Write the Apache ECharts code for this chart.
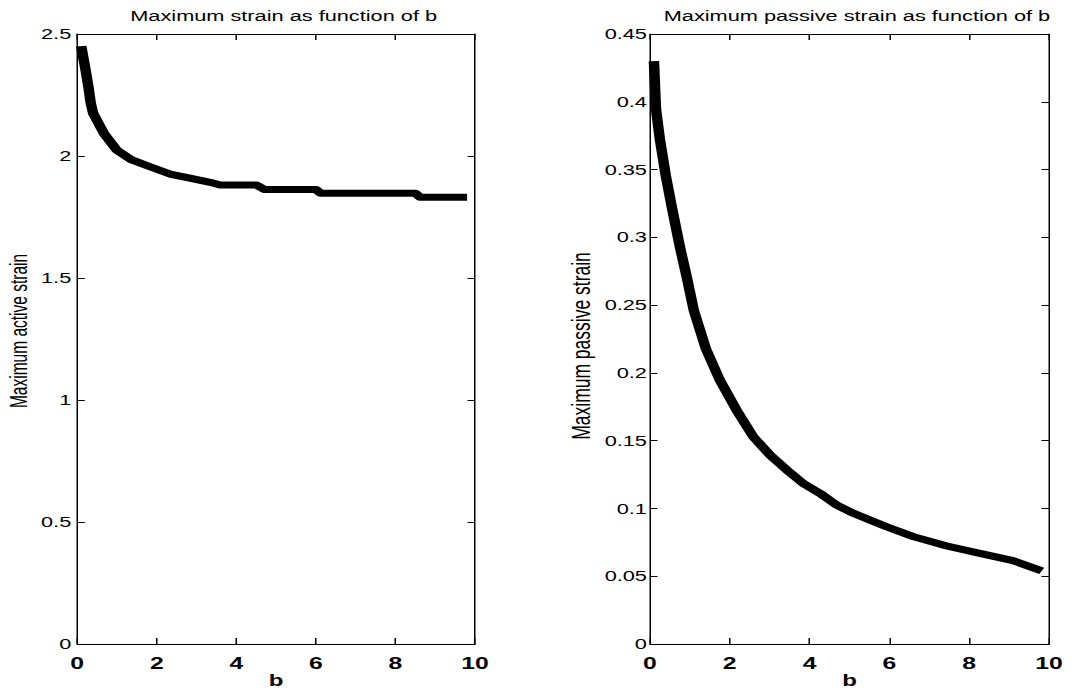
<!DOCTYPE html>
<html>
<head>
<meta charset="utf-8">
<title>Maximum strain as function of b</title>
<script src="https://cdn.jsdelivr.net/npm/echarts@6/dist/echarts.min.js"></script>
<style>
  html, body { margin: 0; padding: 0; background: #fff; overflow: hidden; }
  /* the figure is laid out at 726 px and widened to 1089 px, giving its wide lettering */
  #chart { width: 726px; height: 691px; transform: scaleX(1.5); transform-origin: 0 0; }
</style>
</head>
<body>
<div id="chart"></div>
<script>
// Maximum active strain against b
const activeB      = [0.10, 0.21, 0.28, 0.34, 0.40, 0.67, 0.99, 1.37, 1.83, 2.33, 2.83, 3.34, 3.59, 4.51, 4.70, 6.00, 6.12, 8.50, 8.62, 9.80];
const activeStrain = [2.45, 2.352, 2.284, 2.216, 2.175, 2.093, 2.025, 1.984, 1.956, 1.926, 1.909, 1.892, 1.881, 1.881, 1.863, 1.863, 1.847, 1.847, 1.831, 1.831];

// Maximum passive strain against b
const passiveB      = [0.10, 0.15, 0.25, 0.40, 0.55, 0.75, 0.92, 1.10, 1.40, 1.75, 2.17, 2.59, 3.01, 3.43, 3.84, 4.26, 4.68, 5.10, 5.51, 5.93, 6.60, 7.44, 8.27, 9.10, 9.82];
const passiveStrain = [0.430, 0.395, 0.372, 0.345, 0.322, 0.293, 0.271, 0.246, 0.218, 0.1947, 0.1726, 0.1529, 0.1394, 0.1284, 0.1185, 0.1112, 0.1025, 0.0964, 0.0915, 0.0865, 0.0792, 0.0723, 0.0669, 0.0615, 0.054];

// Axis ranges and tick steps
const bRange       = { min: 0, max: 10, interval: 2 };
const activeRange  = { min: 0, max: 2.5, interval: 0.5 };
const passiveRange = { min: 0, max: 0.45, interval: 0.05 };

const titles    = ['Maximum strain as function of b', 'Maximum passive strain as function of b'];
const yNames    = ['Maximum active strain', 'Maximum passive strain'];
const xName     = 'b';

const FONT = '"Liberation Sans", Arial, Helvetica, sans-serif';
const NARROW = '"Liberation Sans Narrow", "Arial Narrow", "Liberation Sans", sans-serif';

// the grids keep their stated size; the four axes of each grid close the frame
const gridFixed = { show: false, outerBoundsMode: 'none', containLabel: false };
const grids = [
  { left: 51.5, top: 34, width: 265.2, height: 610, ...gridFixed },
  { left: 433.3, top: 34, width: 266, height: 610, ...gridFixed }
];

function pairs(xs, ys) { return xs.map((x, i) => [x, ys[i]]); }

const boxLine = () => ({ show: true, onZero: false, lineStyle: { color: '#000', width: 1 } });
const tickStyle = (length) => ({ show: true, inside: true, length, lineStyle: { color: '#000', width: 1 } });

function bottomX(gridIndex) {
  return {
    type: 'value', gridIndex, position: 'bottom', ...bRange,
    name: xName, nameLocation: 'middle', nameGap: 29, nameMoveOverlap: false,
    nameTextStyle: { fontFamily: NARROW, fontWeight: 'bold', fontSize: 16, lineHeight: 16, color: '#000' },
    axisLine: boxLine(), axisTick: tickStyle(6),
    axisLabel: { show: true, margin: 11, fontFamily: NARROW, fontWeight: 'bold', fontSize: 16.5, color: '#000' },
    splitLine: { show: false }
  };
}
function topX(gridIndex) {
  return {
    type: 'value', gridIndex, position: 'top', ...bRange,
    axisLine: boxLine(), axisTick: tickStyle(6),
    axisLabel: { show: false }, splitLine: { show: false }
  };
}
function leftY(gridIndex, range, name, margin, gap, nameSize, namePad) {
  return {
    type: 'value', gridIndex, position: 'left', ...range,
    name, nameLocation: 'middle', nameGap: gap,
    nameTextStyle: { fontFamily: FONT, fontSize: nameSize, color: '#000', padding: namePad },
    axisLine: boxLine(), axisTick: tickStyle(5),
    axisLabel: { show: true, margin, fontFamily: FONT, fontSize: 14.5, color: '#000' },
    splitLine: { show: false }
  };
}
function rightY(gridIndex, range) {
  return {
    type: 'value', gridIndex, position: 'right', ...range,
    axisLine: boxLine(), axisTick: tickStyle(5),
    axisLabel: { show: false }, splitLine: { show: false }
  };
}

const chart = echarts.init(document.getElementById('chart'), null, { renderer: 'svg' });

const titleStyle = { fontFamily: FONT, fontSize: 14.5, fontWeight: 'normal', color: '#000' };

chart.setOption({
  animation: false,
  backgroundColor: '#fff',
  title: [
    { text: titles[0], left: grids[0].left + grids[0].width / 2, textAlign: 'center', top: 3, textStyle: titleStyle },
    { text: titles[1], left: grids[1].left + grids[1].width / 2, textAlign: 'center', top: 3, textStyle: titleStyle }
  ],
  grid: grids,
  xAxis: [bottomX(0), topX(0), bottomX(1), topX(1)],
  yAxis: [
    leftY(0, activeRange, yNames[0], 4, 31, 15.5, [0, 0, 0, 16]),
    rightY(0, activeRange),
    leftY(1, passiveRange, yNames[1], 2, 37, 17.5, [0, 14, 0, 0]),
    rightY(1, passiveRange)
  ],
  series: [
    { type: 'line', xAxisIndex: 0, yAxisIndex: 0, data: pairs(activeB, activeStrain),
      showSymbol: false, symbol: 'none',
      lineStyle: { color: '#000', width: 7, join: 'round', cap: 'butt' } },
    { type: 'line', xAxisIndex: 2, yAxisIndex: 2, data: pairs(passiveB, passiveStrain),
      showSymbol: false, symbol: 'none',
      lineStyle: { color: '#000', width: 7, join: 'round', cap: 'butt' } }
  ]
});
</script>
</body>
</html>
